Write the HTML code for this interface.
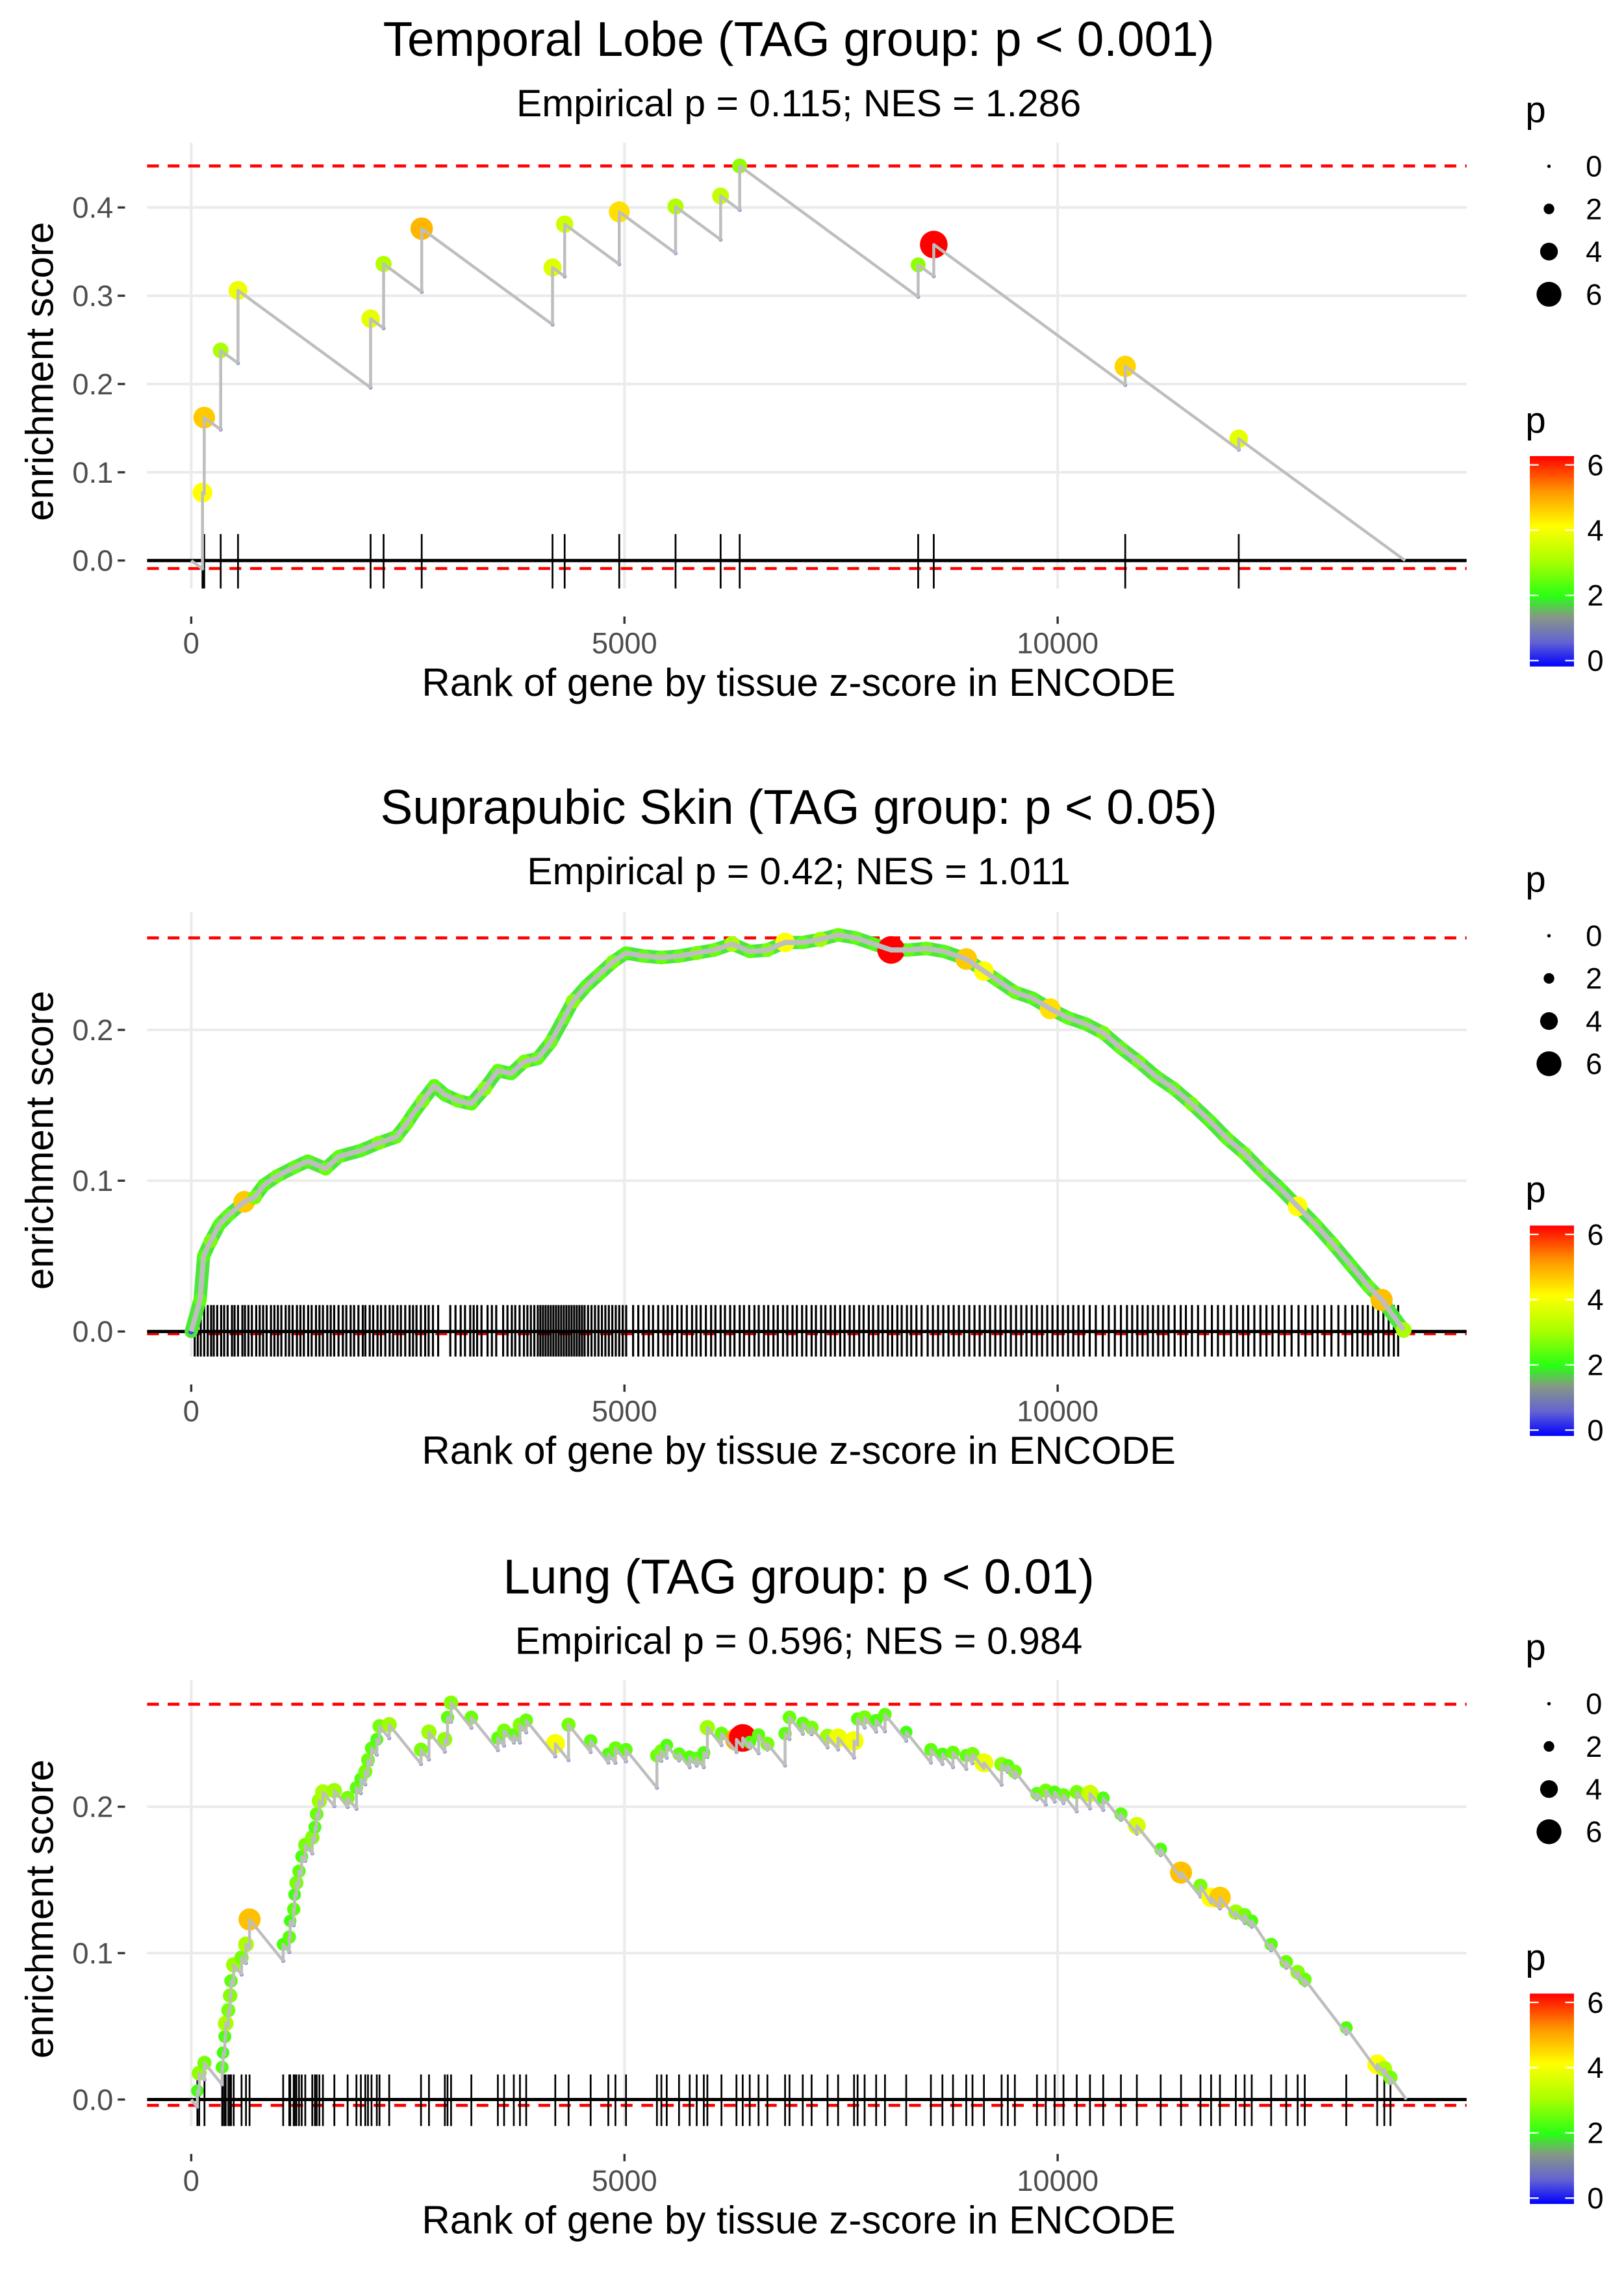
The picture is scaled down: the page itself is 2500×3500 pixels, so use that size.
<!DOCTYPE html>
<html><head><meta charset="utf-8"><title>Enrichment plots</title>
<style>html,body{margin:0;padding:0;background:#fff}svg{display:block}text{font-family:"Liberation Sans",Arial,sans-serif}</style>
</head><body>
<svg id="fig" xmlns="http://www.w3.org/2000/svg" width="2500" height="3500" viewBox="0 0 1104 1545.6"></svg>
<script>
// ---------- data: panel 1 (Temporal Lobe) ----------
const p1Ranks=[130,150,340,540,2070,2220,2660,4170,4310,4940,5590,6110,6330,8390,8570,10780,12090];
const p1ES=[0.077,0.162,0.238,0.306,0.274,0.336,0.376,0.332,0.381,0.395,0.401,0.413,0.447,0.335,0.358,0.220,0.138];
const p1P=[4.0,4.5,3.0,3.8,3.7,3.1,4.7,3.6,3.4,4.3,3.1,3.3,2.8,2.8,6.0,4.4,3.7];
// ---------- data: panel 2 (Suprapubic Skin) ----------
const p2CurveRanks=[0,102,143,224,326,428,612,734,836,989,1193,1346,1550,1703,1958,2162,2366,2489,2570,2672,2805,2927,3080,3233,3386,3539,3692,3845,3998,4151,4304,4406,4559,4712,4865,5018,5222,5426,5630,5834,6038,6242,6446,6650,6854,7058,7262,7466,7670,7874,8078,8282,8486,8690,8945,9149,9302,9506,9710,9914,10118,10322,10526,10730,10934,11138,11342,11546,11750,11954,12158,12362,12566,12770,12974,13178,13382,13586,13739,13994];
const p2CurveES=[0,0.021,0.05,0.06,0.071,0.077,0.086,0.089,0.097,0.103,0.109,0.113,0.108,0.116,0.12,0.125,0.129,0.138,0.145,0.153,0.163,0.157,0.153,0.151,0.161,0.173,0.171,0.179,0.181,0.192,0.208,0.219,0.229,0.237,0.245,0.251,0.249,0.248,0.249,0.251,0.253,0.257,0.252,0.253,0.258,0.258,0.26,0.263,0.261,0.257,0.253,0.253,0.254,0.252,0.247,0.239,0.233,0.225,0.221,0.214,0.208,0.204,0.198,0.188,0.179,0.169,0.161,0.151,0.14,0.128,0.118,0.106,0.095,0.083,0.071,0.058,0.044,0.03,0.021,0.001];
const p2CurveP=[0.5,2.4,2.3,2.6,2.3,2.4,4.5,2.6,2.3,2.5,2.4,2.3,2.5,2.4,2.3,2.6,2.4,2.5,2.3,2.6,2.4,2.3,2.5,2.4,2.7,2.4,2.3,2.6,2.4,2.5,2.4,2.7,2.3,2.4,2.6,2.3,2.4,2.5,2.4,2.6,2.5,3.0,2.4,2.6,4.0,2.4,2.9,2.5,2.4,2.3,6.0,2.4,2.5,2.3,4.5,4.0,2.4,2.5,2.3,4.3,2.4,2.3,2.6,2.4,2.5,2.3,2.4,2.6,2.3,2.4,2.5,2.4,2.3,4.0,2.4,2.5,2.3,2.4,4.6,3.0];
const p2RugRanks=[40,75,110,150,190,230,260,300,345,380,420,470,500,540,590,620,660,700,750,790,830,870,920,960,1000,1040,1090,1130,1170,1220,1260,1300,1350,1390,1440,1480,1520,1570,1610,1650,1700,1750,1790,1840,1880,1930,1980,2010,2060,2100,2150,2190,2240,2290,2330,2380,2420,2470,2520,2560,2600,2650,2700,2740,2790,2850,2990,3050,3110,3160,3220,3260,3300,3350,3420,3470,3520,3600,3650,3700,3740,3790,3840,3880,3920,3960,4000,4030,4060,4090,4120,4150,4180,4210,4240,4270,4300,4330,4360,4390,4420,4450,4480,4510,4540,4580,4620,4660,4700,4740,4780,4820,4860,4900,4940,4980,5020,5100,5160,5220,5280,5330,5390,5450,5500,5550,5610,5660,5720,5780,5830,5880,5940,6000,6050,6110,6160,6220,6270,6330,6380,6440,6500,6550,6610,6660,6720,6770,6830,6880,6940,6990,7050,7100,7160,7210,7270,7320,7380,7430,7490,7540,7600,7650,7710,7760,7820,7870,7930,7980,8040,8090,8150,8200,8260,8310,8370,8430,8500,8560,8620,8680,8740,8800,8860,8920,8980,9040,9100,9160,9220,9280,9340,9400,9460,9520,9580,9640,9700,9760,9820,9880,9940,10000,10060,10120,10180,10240,10300,10370,10440,10520,10590,10660,10730,10800,10860,10920,10980,11040,11100,11160,11220,11280,11350,11420,11480,11550,11620,11700,11780,11850,11920,12000,12070,12140,12200,12270,12340,12410,12480,12550,12620,12700,12780,12860,12940,13000,13080,13160,13240,13320,13400,13460,13520,13580,13640,13700,13760,13820,13880,13930];
// ---------- data: panel 3 (Lung) ----------
const p3Ranks=[71,92,153,357,367,388,398,428,449,459,490,581,632,673,1061,1132,1142,1183,1193,1214,1244,1275,1316,1397,1428,1448,1479,1520,1652,1805,1907,1958,2009,2040,2081,2142,2173,2285,2652,2744,2927,2958,2999,3233,3539,3611,3723,3794,3866,4202,4355,4610,4814,4896,5018,5375,5426,5488,5630,5753,5834,5916,5957,6120,6293,6365,6446,6548,6650,6854,6905,7058,7160,7344,7466,7650,7691,7772,7905,8007,8252,8537,8670,8792,8945,9017,9149,9353,9425,9506,9761,9863,9965,10067,10220,10373,10526,10730,10914,11189,11424,11648,11771,11873,12056,12158,12240,12464,12638,12770,12852,13331,13688,13770,13841];
const p3ES=[0.006,0.018,0.025,0.022,0.032,0.043,0.052,0.061,0.071,0.081,0.092,0.097,0.106,0.123,0.106,0.111,0.122,0.13,0.14,0.148,0.156,0.166,0.174,0.179,0.186,0.195,0.204,0.21,0.211,0.206,0.213,0.219,0.224,0.232,0.24,0.246,0.255,0.256,0.239,0.251,0.246,0.261,0.271,0.261,0.247,0.252,0.249,0.256,0.259,0.243,0.256,0.245,0.236,0.24,0.239,0.235,0.238,0.242,0.236,0.234,0.233,0.237,0.254,0.25,0.246,0.247,0.244,0.249,0.243,0.25,0.261,0.257,0.254,0.248,0.247,0.245,0.26,0.261,0.259,0.263,0.251,0.239,0.236,0.237,0.235,0.236,0.23,0.229,0.228,0.224,0.209,0.211,0.21,0.208,0.21,0.209,0.206,0.195,0.187,0.171,0.155,0.146,0.138,0.138,0.128,0.126,0.122,0.106,0.094,0.087,0.082,0.049,0.024,0.021,0.015];
const p3P=[2.2,2.8,2.6,2.3,2.2,2.3,3.0,2.6,2.7,2.4,2.9,2.6,3.0,4.6,2.3,2.4,2.2,2.4,2.2,2.6,2.4,2.3,2.6,2.7,2.3,2.5,2.9,3.0,2.9,2.6,2.4,2.3,2.6,2.5,2.4,2.3,2.6,2.9,2.6,2.9,2.8,2.4,2.7,2.5,2.4,2.6,2.4,2.7,2.5,3.9,2.6,2.4,2.3,2.5,2.4,2.5,2.6,2.3,2.4,2.3,2.4,2.3,2.9,2.5,4.8,6.0,2.3,2.4,2.6,2.4,2.5,2.4,2.6,2.9,3.8,3.9,2.4,2.6,2.3,2.4,2.2,2.4,2.3,2.5,2.4,2.6,3.8,2.7,2.4,2.6,2.4,2.6,2.3,2.5,2.6,3.4,2.3,2.4,3.5,2.3,4.6,2.6,4.0,4.5,2.9,2.6,2.3,2.4,2.5,2.7,2.5,2.3,4.0,3.0,2.6];
// ---------- shared tick labels ----------
const xTicks=[0,5000,10000];
const p1YTicks=[0,0.1,0.2,0.3,0.4];
const p2YTicks=[0,0.1,0.2];
const p3YTicks=[0,0.1,0.2];
const legendSizes=[0,2,4,6];
const legendColors=[6,4,2,0];

const NS="http://www.w3.org/2000/svg";
const svg=document.getElementById('fig');
function mk(tag,attrs,parent){const e=document.createElementNS(NS,tag);for(const k in attrs)e.setAttribute(k,attrs[k]);(parent||svg).appendChild(e);return e;}
const stops=[[0,[0,0,255]],[0.7,[100,100,210]],[1.4,[135,150,135]],[2,[40,255,20]],[3,[170,255,0]],[4,[255,255,0]],[5,[255,150,0]],[6,[255,0,0]]];
function col(p){p=Math.max(0,Math.min(6,p));for(let i=1;i<stops.length;i++){if(p<=stops[i][0]){const a=stops[i-1],b=stops[i];const t=(p-a[0])/(b[0]-a[0]);const c=a[1].map((v,j)=>Math.round(v+(b[1][j]-v)*t));return 'rgb('+c.join(',')+')';}}return 'red';}
function rad(p){return 1.3+p*1.35;}
const X0=130,XPU=294.5/5000;
function xs(r){return X0+r*XPU;}

const defs=mk('defs',{});
const lg=mk('linearGradient',{id:'cbar',x1:0,y1:1,x2:0,y2:0},defs);
stops.forEach(s=>{mk('stop',{offset:(s[0]/6),'stop-color':'rgb('+s[1].join(',')+')'},lg);});

function panel(cfg){
  const g=mk('g',{});
  
  
  const ys=v=>cfg.zero-v*cfg.ppu;
  cfg.yTicks.forEach(t=>{const l=mk('line',{x1:100,x2:997,y1:ys(t),y2:ys(t),stroke:'#ebebeb','stroke-width':1.8},g);
    });
  xTicks.forEach(t=>{const l=mk('line',{x1:xs(t),x2:xs(t),y1:cfg.top,y2:cfg.bottom,stroke:'#ebebeb','stroke-width':1.8},g);
    });
  [cfg.hi,cfg.lo].forEach(v=>{const l=mk('line',{x1:100,x2:997,y1:ys(v),y2:ys(v),stroke:'#ff0000','stroke-width':2,'stroke-dasharray':'8,6'},g);
    });
  const rg=mk('g',{},g);
  cfg.rug.forEach(r=>{const l=mk('line',{x1:xs(r),x2:xs(r),y1:cfg.zero-cfg.rugUp,y2:cfg.zero+cfg.rugDn,stroke:'#000','stroke-width':cfg.rugW},rg);
    });
  const zl=mk('line',{x1:100,x2:997,y1:cfg.zero,y2:cfg.zero,stroke:'#000','stroke-width':2.2},g);
  
  const sg=mk('g',{},g);
  let pts=[];
  if(cfg.type==='steps'){
    let pr=0,pe=0;pts.push([xs(0),ys(0)]);
    const troughs=[];
    cfg.ranks.forEach((r,i)=>{let tr=pe-cfg.slope*(r-pr);if(tr>cfg.es[i]-0.004)tr=cfg.es[i]-0.004;
      pts.push([xs(r),ys(tr)]);pts.push([xs(r),ys(cfg.es[i])]);troughs.push([r,tr]);pr=r;pe=cfg.es[i];});
    pts.push([xs(cfg.end),ys(0)]);
    troughs.forEach(t=>{const c=mk('circle',{cx:xs(t[0]),cy:ys(t[1]),r:1.3,fill:'#5050e0'},sg);
      });
    cfg.ranks.forEach((r,i)=>{const c=mk('circle',{cx:xs(r),cy:ys(cfg.es[i]),r:rad(cfg.p[i]),fill:col(cfg.p[i])},sg);
      });
  } else {
    cfg.ranks.forEach((r,i)=>pts.push([xs(r),ys(cfg.es[i])]));
    const band=mk('polyline',{points:pts.map(p=>p.join(',')).join(' '),fill:'none',stroke:'#4be83a','stroke-width':9,'stroke-linejoin':'round','stroke-linecap':'round'},sg);
    
    cfg.ranks.forEach((r,i)=>{const c=mk('circle',{cx:xs(r),cy:ys(cfg.es[i]),r:rad(cfg.p[i]),fill:col(cfg.p[i])},sg);
      });
  }
  const pl=mk('polyline',{points:pts.map(p=>p.join(',')).join(' '),fill:'none',stroke:'#bebebe','stroke-width':cfg.type==='steps'?2:3.5,'stroke-linejoin':'round'},sg);
  
  cfg.yTicks.forEach(t=>{const tx=mk('text',{x:77,y:ys(t)+7,'text-anchor':'end','font-size':20,fill:'#4d4d4d'},g);tx.textContent=t.toFixed(1);
    
    const tk=mk('line',{x1:80,x2:85,y1:ys(t),y2:ys(t),stroke:'#333','stroke-width':1.5},g);
    });
  xTicks.forEach(t=>{const tx=mk('text',{x:xs(t),y:cfg.bottom+44,'text-anchor':'middle','font-size':20,fill:'#4d4d4d'},g);tx.textContent=String(t);
    
    const tk=mk('line',{x1:xs(t),x2:xs(t),y1:cfg.bottom+19,y2:cfg.bottom+24,stroke:'#333','stroke-width':1.5},g);
    });
  const xt=mk('text',{x:543,y:cfg.bottom+73,'text-anchor':'middle','font-size':26.5,fill:'#000'},g);xt.textContent='Rank of gene by tissue z-score in ENCODE';
  
  const cy=(cfg.top+cfg.bottom)/2+4;
  const yt=mk('text',{x:0,y:0,transform:'translate(36,'+cy+') rotate(-90)','text-anchor':'middle','font-size':26.5,fill:'#000'},g);yt.textContent='enrichment score';
  
  const tt=mk('text',{x:543,y:cfg.titleY,'text-anchor':'middle','font-size':33,fill:'#000'},g);tt.textContent=cfg.title;
  
  const st=mk('text',{x:543,y:cfg.titleY+41,'text-anchor':'middle','font-size':26,fill:'#000'},g);st.textContent=cfg.subtitle;
  
  const d=cfg.dy;
  const lgS=mk('g',{},g);
  const lt=mk('text',{x:1037,y:d+83,'font-size':25,fill:'#000'},lgS);lt.textContent='p';
  
  legendSizes.forEach((s,i)=>{const y=d+113+i*29;
    const c=mk('circle',{cx:1053,cy:y,r:rad(s)*0.9,fill:'#000'},lgS);
    const t=mk('text',{x:1078,y:y+7,'font-size':20,fill:'#000'},lgS);t.textContent=String(s);
    });
  const lgC=mk('g',{},g);
  const ct=mk('text',{x:1037,y:d+294,'font-size':25,fill:'#000'},lgC);ct.textContent='p';
  
  const cb=mk('rect',{x:1040,y:d+310,width:30,height:143,fill:'url(#cbar)'},lgC);
  legendColors.forEach(v=>{const y=d+449-(v/6)*133;
    mk('line',{x1:1040,x2:1046,y1:y,y2:y,stroke:'#fff','stroke-width':1},lgC);mk('line',{x1:1064,x2:1070,y1:y,y2:y,stroke:'#fff','stroke-width':1},lgC);
    const t=mk('text',{x:1079,y:y+7,'font-size':20,fill:'#000'},lgC);t.textContent=String(v);
    });
}

panel({name:'panel-temporal-lobe',type:'steps',ranks:p1Ranks,es:p1ES,p:p1P,slope:7.2e-5,end:14010,rug:p1Ranks,rugUp:18,rugDn:19,rugW:1.2,
  zero:381,ppu:600,top:97,bottom:400,hi:0.447,lo:-0.009,yTicks:p1YTicks,dy:0,titleY:38,
  title:'Temporal Lobe (TAG group: p < 0.001)',subtitle:'Empirical p = 0.115; NES = 1.286'});
panel({name:'panel-suprapubic-skin',type:'curve',ranks:p2CurveRanks,es:p2CurveES,p:p2CurveP,rug:p2RugRanks,rugUp:18,rugDn:17,rugW:1.4,
  zero:905,ppu:1025,top:620,bottom:922,hi:0.261,lo:-0.0015,yTicks:p2YTicks,dy:523,titleY:560,
  title:'Suprapubic Skin (TAG group: p < 0.05)',subtitle:'Empirical p = 0.42; NES = 1.011'});
panel({name:'panel-lung',type:'steps',ranks:p3Ranks,es:p3ES,p:p3P,slope:7.3e-5,end:14025,rug:p3Ranks,rugUp:17,rugDn:18,rugW:1.2,
  zero:1427,ppu:995,top:1142,bottom:1445,hi:0.27,lo:-0.004,yTicks:p3YTicks,dy:1045,titleY:1083,
  title:'Lung (TAG group: p < 0.01)',subtitle:'Empirical p = 0.596; NES = 0.984'});
</script>
</body></html>
